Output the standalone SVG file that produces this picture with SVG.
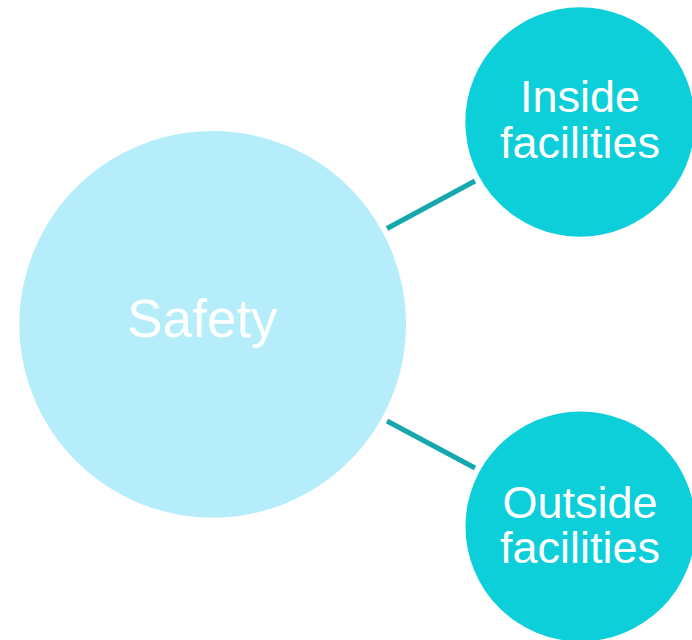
<svg xmlns="http://www.w3.org/2000/svg" width="692" height="640" viewBox="0 0 692 640">
  <style>
    .hub { fill: #B5EDFB; }
    .leaf { fill: #0DCFD9; }
    .label { fill: #FFFFFF; font-family: "Liberation Sans", Arial, sans-serif; text-anchor: middle; }
    .leaf-label { font-size: 45px; }
    .link { stroke: #13A7AE; stroke-width: 5; stroke-linecap: butt; fill: none; }
  </style>
  <rect width="692" height="640" fill="#FFFFFF"/>
  <g id="connectors">
    <line class="link" x1="387" y1="228.5" x2="475" y2="181"/>
    <line class="link" x1="387" y1="421" x2="475" y2="468"/>
  </g>
  <g id="safety">
    <circle class="hub" cx="212.7" cy="324.3" r="193.3"/>
    <text class="label" x="202.5" y="336.7" font-size="53">Safety</text>
  </g>
  <g id="inside-facilities">
    <circle class="leaf" cx="580" cy="122" r="114.7"/>
    <text class="label leaf-label" x="580" y="111.7">Inside</text>
    <text class="label leaf-label" x="580" y="158.3">facilities</text>
  </g>
  <g id="outside-facilities">
    <circle class="leaf" cx="580.5" cy="526.5" r="115"/>
    <text class="label leaf-label" x="580" y="517.7">Outside</text>
    <text class="label leaf-label" x="580" y="563.3">facilities</text>
  </g>
</svg>
